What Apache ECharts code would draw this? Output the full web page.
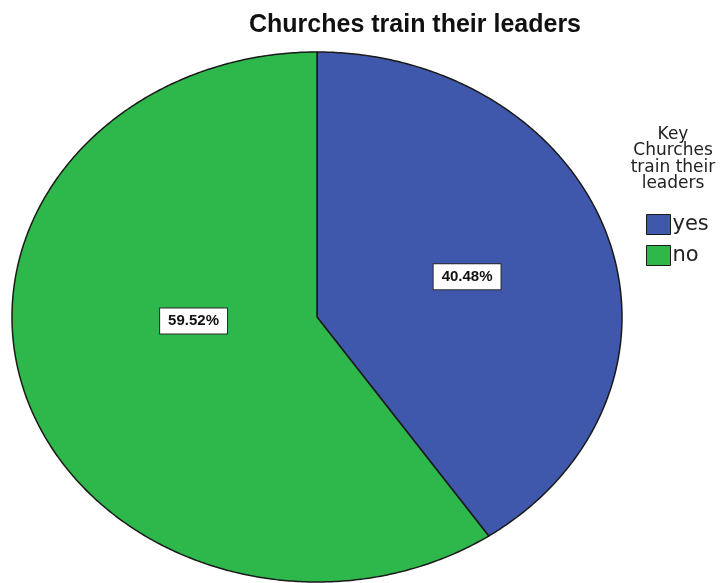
<!DOCTYPE html>
<html>
<head>
<meta charset="utf-8">
<title>Churches train their leaders</title>
<script src="https://cdn.jsdelivr.net/npm/echarts@6/dist/echarts.min.js"></script>
<style>
  html, body { margin: 0; padding: 0; background: #ffffff; }
  #chart { width: 720px; height: 583px; }
</style>
</head>
<body>
<div id="chart"></div>
<script>
// Answers to "Churches train their leaders"
const categories = ['yes', 'no'];
const percentages = [40.48, 59.52];

const sliceColors = ['#3f58ab', '#2eb84b'];
const outlineColor = '#1a1a1a';

// Where each value label sits inside its slice: fraction of the radius,
// and an angular shift (degrees) away from the slice's middle.
const labelPlacement = [
  { r: 0.515, shift: 0 },
  { r: 0.405, shift: 15 }
];

const total = percentages.reduce((a, b) => a + b, 0);
const startShares = [];
let running = 0;
percentages.forEach(v => { startShares.push(running); running += v; });

// Point on the unit ellipse, clockwise from 12 o'clock, mapped through the axes.
function ellipsePoint(api, share, r) {
  const a = share * 2 * Math.PI;
  return api.coord([r * Math.sin(a), r * Math.cos(a)]);
}

function makeSliceRenderer(idx) {
  return function (params, api) {
    const value = api.value(2);
    const start = startShares[idx] / total;
    const end = start + value / total;
    const points = [api.coord([0, 0])];
    const steps = Math.max(4, Math.ceil((end - start) * 720));
    for (let k = 0; k <= steps; k++) {
      points.push(ellipsePoint(api, start + (end - start) * k / steps, 1));
    }
    const place = labelPlacement[idx];
    const mid = (start + end) / 2 + place.shift / 360;
    const lp = ellipsePoint(api, mid, place.r);
    return {
      type: 'group',
      children: [
        {
          type: 'polygon',
          shape: { points: points },
          style: { fill: sliceColors[idx], stroke: outlineColor, lineWidth: 1.5, lineJoin: 'round' }
        },
        {
          type: 'text',
          x: lp[0],
          y: lp[1],
          z2: 10,
          style: {
            text: value.toFixed(2) + '%',
            fontFamily: 'Liberation Sans, Arial, sans-serif',
            fontWeight: 'bold',
            fontSize: 15,
            lineHeight: 15,
            fill: '#111111',
            align: 'center',
            verticalAlign: 'middle',
            textAlign: 'center',
            textVerticalAlign: 'middle',
            backgroundColor: '#ffffff',
            borderColor: '#2b2b2b',
            borderWidth: 1,
            padding: [5, 8, 5, 8]
          }
        }
      ]
    };
  };
}

const series = categories.map((name, i) => ({
  name: name,
  type: 'custom',
  coordinateSystem: 'cartesian2d',
  clip: false,
  silent: true,
  itemStyle: { color: sliceColors[i] },
  encode: { x: 0, y: 1 },
  data: [[0, 0, percentages[i]]],
  renderItem: makeSliceRenderer(i)
}));

const chart = echarts.init(document.getElementById('chart'), null, { renderer: 'canvas' });

chart.setOption({
  animation: false,
  backgroundColor: '#ffffff',
  grid: { left: 12, top: 52, width: 610, height: 530 },
  xAxis: { type: 'value', min: -1, max: 1, show: false },
  yAxis: { type: 'value', min: -1, max: 1, show: false },
  legend: {
    data: categories,
    orient: 'vertical',
    left: 641,
    top: 209,
    icon: 'rect',
    itemWidth: 24,
    itemHeight: 20,
    itemGap: 10,
    selectedMode: false,
    itemStyle: { borderColor: outlineColor, borderWidth: 1 },
    textStyle: {
      fontFamily: 'DejaVu Sans, sans-serif',
      fontSize: 21,
      color: '#222222',
      padding: [0, 0, 0, -3]
    }
  },
  graphic: [
    {
      type: 'text',
      x: 415,
      y: 25,
      style: {
        text: 'Churches train their leaders',
        fontFamily: 'Liberation Sans, Arial, sans-serif',
        fontWeight: 'bold',
        fontSize: 25,
        fill: '#111111',
        align: 'center',
        verticalAlign: 'middle',
        textAlign: 'center',
        textVerticalAlign: 'middle'
      }
    },
    {
      type: 'text',
      x: 673,
      y: 126,
      style: {
        text: 'Key\nChurches\ntrain their\nleaders',
        fontFamily: 'DejaVu Sans, sans-serif',
        fontSize: 17,
        lineHeight: 16.5,
        fill: '#222222',
        align: 'center',
        verticalAlign: 'top',
        textAlign: 'center',
        textVerticalAlign: 'top'
      }
    }
  ],
  series: series
});
</script>
</body>
</html>
